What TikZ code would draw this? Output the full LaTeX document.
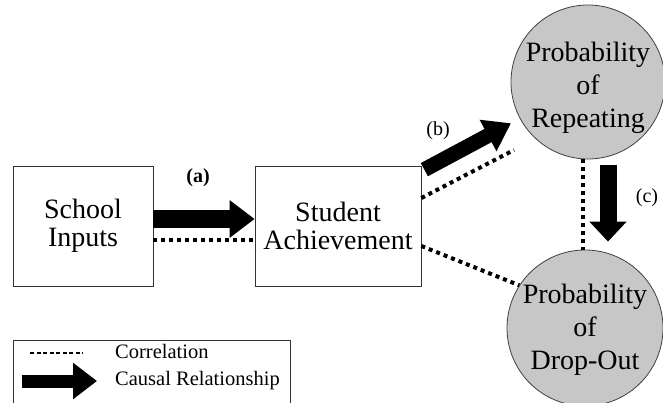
\documentclass[tikz,border=0pt]{standalone}
\usepackage{fontspec}
\setmainfont{Liberation Serif}
\usetikzlibrary{arrows.meta}
\begin{document}
\begin{tikzpicture}[x=1pt,y=-1pt,
  boxnode/.style={draw=black!80, line width=0.7pt, minimum height=120pt, inner sep=0pt, align=center, font=\fontsize{28}{28}\selectfont},
  circnode/.style={circle, draw=black!75, line width=0.8pt, fill=black!22, inner sep=0pt},
  circtext/.style={align=center, font=\fontsize{28}{33}\selectfont},
  causal/.style n args={3}{line width=#1, -{Triangle[width=#2,length=#3]}},
  corr/.style={line width=4pt, dash pattern=on 4pt off 4pt},
  tag/.style={font=\fontsize{20}{20}\selectfont},
  legtext/.style={font=\fontsize{20.5}{20.5}\selectfont, anchor=base west, inner sep=0pt}
]
\useasboundingbox (0,0) rectangle (663,402);

% nodes
\node[boxnode, minimum width=140pt] (si) at (83,226) {School\\Inputs};
\node[boxnode, minimum width=166pt] (sa) at (338,226) {Student\\Achievement};
\node[circnode, minimum size=154pt,
  label={[circtext, yshift=-6pt]center:Probability\\of\\Repeating}] (rep) at (588,82) {};
\node[circnode, minimum size=156pt,
  label={[circtext, yshift=-2pt]center:Probability\\of\\Drop-Out}] (drop) at (585,328) {};

% labels
\node[tag, font=\fontsize{20}{20}\selectfont\bfseries] (ta) at (198,178) {(a)};
\node[tag] (tb) at (438,131) {(b)};
\node[tag] (tc) at (647,198) {(c)};

% (a)
\draw[causal={18pt}{36pt}{25pt}] ([yshift=7pt]si.east) -- ([yshift=7pt]sa.west);
\draw[corr] ([yshift=-14pt]si.east) -- ([yshift=-14pt]sa.west);

% (b)
\draw[causal={15pt}{34pt}{26pt}, shorten >=10pt] ([xshift=3pt,yshift=-4pt]sa.north east) -- (rep);
\coordinate (bend) at (514,150);
\draw[corr] ([yshift=28pt]sa.east) -- (bend);

% (c)
\draw[causal={17pt}{36pt}{20pt}, shorten <=6pt, shorten >=8pt] ([xshift=20pt]rep.south) -- ([xshift=23pt]drop.north);
\draw[corr] ([xshift=-5pt]rep.south) -- ([xshift=-2pt]drop.north);

% achievement -- drop-out
\draw[corr] ([yshift=-20pt]sa.east) -- (drop.147);

% legend
\node[draw=black!80, line width=0.7pt, minimum width=277pt, minimum height=80pt, inner sep=0pt] (legend) at (151.5,380) {};
\coordinate (lc1) at (30,353);
\coordinate (lc2) at (83,353);
\draw[line width=2.5pt, dash pattern=on 4pt off 2.5pt] (lc1) -- (lc2);
\coordinate (la1) at (22,381);
\coordinate (la2) at (97,381);
\draw[causal={13pt}{35pt}{24pt}] (la1) -- (la2);
\node[legtext] (lt1) at (115,358) {Correlation};
\node[legtext] (lt2) at (115,385) {Causal Relationship};
\end{tikzpicture}
\end{document}
